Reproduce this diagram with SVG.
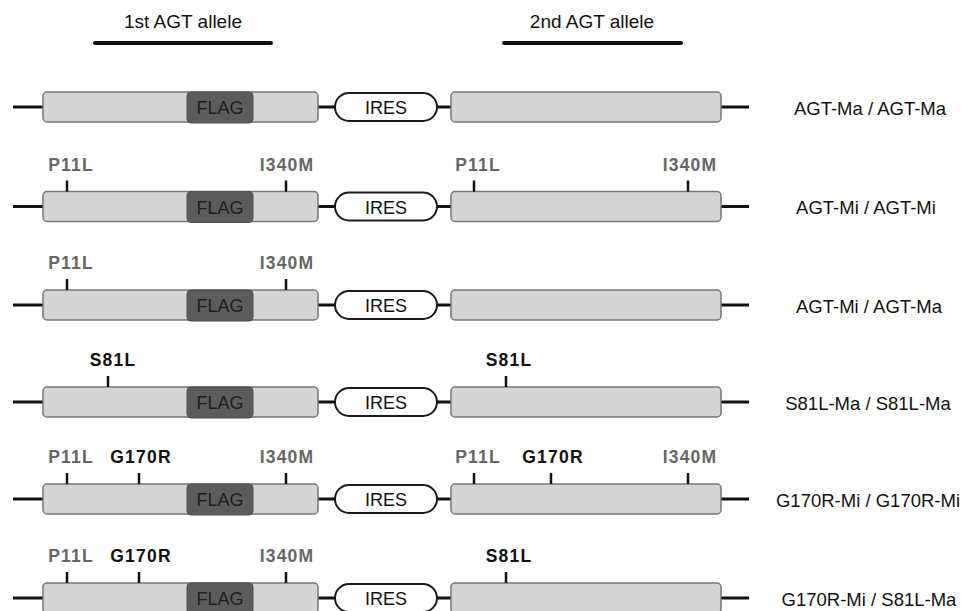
<svg xmlns="http://www.w3.org/2000/svg" width="974" height="611" viewBox="0 0 974 611">
<style>
  text { font-family: "Liberation Sans", Arial, sans-serif; }
  .hdr { font-size: 19px; fill: #111; text-anchor: middle; }
  .bar { stroke: #111; stroke-width: 4; stroke-linecap: round; }
  .box { fill: #d4d4d4; stroke: #777; stroke-width: 1.5; }
  .flag { fill: #5c5c5c; stroke: #4d4d4d; stroke-width: 1; }
  .flagt { font-size: 18px; fill: #1e1e1e; text-anchor: middle; }
  .ires { fill: #fff; stroke: #1a1a1a; stroke-width: 2; }
  .irest { font-size: 18px; fill: #111; text-anchor: middle; }
  .wire { stroke: #111; stroke-width: 3; }
  .tick { stroke: #111; stroke-width: 2.5; }
  .mi { font-size: 17.5px; font-weight: bold; fill: #666; text-anchor: middle; letter-spacing: 1.2px; }
  .ma { font-size: 17.5px; font-weight: bold; fill: #111; text-anchor: middle; letter-spacing: 1.2px; }
  .lbl { font-size: 18.5px; fill: #111; text-anchor: middle; }
</style>
<defs>
  <g id="cassette">
    <rect class="box" x="43" y="0" width="275" height="30" rx="4"/>
    <rect class="flag" x="187" y="0" width="66" height="31" rx="4"/>
    <text class="flagt" x="220" y="22">FLAG</text>
    <rect class="ires" x="335" y="1" width="102" height="28" rx="14"/>
    <text class="irest" x="386" y="22">IRES</text>
    <rect class="box" x="451" y="0" width="270" height="30" rx="4"/>
  </g>
  <g id="wires">
    <line x1="13" y1="15" x2="43" y2="15"/>
    <line x1="318" y1="15" x2="335" y2="15"/>
    <line x1="437" y1="15" x2="451" y2="15"/>
    <line x1="721" y1="15" x2="749" y2="15"/>
  </g>
</defs>

<g id="headers">
  <text class="hdr" x="183" y="28">1st AGT allele</text>
  <line class="bar" x1="95" y1="43" x2="271" y2="43"/>
  <text class="hdr" x="592" y="28">2nd AGT allele</text>
  <line class="bar" x1="504" y1="43" x2="681" y2="43"/>
</g>

<g id="connectors" class="wire">
  <use href="#wires" transform="translate(0,92)"/>
  <use href="#wires" transform="translate(0,191.5)"/>
  <use href="#wires" transform="translate(0,290)"/>
  <use href="#wires" transform="translate(0,387)"/>
  <use href="#wires" transform="translate(0,484)"/>
  <use href="#wires" transform="translate(0,583)"/>
</g>

<g id="row1" transform="translate(0,92)">
  <use href="#cassette"/>
  <text class="lbl" x="870" y="22.5">AGT-Ma / AGT-Ma</text>
</g>

<g id="row2" transform="translate(0,191.5)">
  <use href="#cassette"/>
  <line class="tick" x1="67" y1="-11" x2="67" y2="0"/>
  <text class="mi" x="71" y="-21">P11L</text>
  <line class="tick" x1="286" y1="-11" x2="286" y2="0"/>
  <text class="mi" x="287" y="-21">I340M</text>
  <line class="tick" x1="474" y1="-11" x2="474" y2="0"/>
  <text class="mi" x="478" y="-21">P11L</text>
  <line class="tick" x1="688" y1="-11" x2="688" y2="0"/>
  <text class="mi" x="690" y="-21">I340M</text>
  <text class="lbl" x="866" y="22.5">AGT-Mi / AGT-Mi</text>
</g>

<g id="row3" transform="translate(0,290)">
  <use href="#cassette"/>
  <line class="tick" x1="67" y1="-11" x2="67" y2="0"/>
  <text class="mi" x="71" y="-21">P11L</text>
  <line class="tick" x1="286" y1="-11" x2="286" y2="0"/>
  <text class="mi" x="287" y="-21">I340M</text>
  <text class="lbl" x="869" y="22.5">AGT-Mi / AGT-Ma</text>
</g>

<g id="row4" transform="translate(0,387)">
  <use href="#cassette"/>
  <line class="tick" x1="108" y1="-11" x2="108" y2="0"/>
  <text class="ma" x="113" y="-21">S81L</text>
  <line class="tick" x1="506" y1="-11" x2="506" y2="0"/>
  <text class="ma" x="509" y="-21">S81L</text>
  <text class="lbl" x="868" y="22.5">S81L-Ma / S81L-Ma</text>
</g>

<g id="row5" transform="translate(0,484)">
  <use href="#cassette"/>
  <line class="tick" x1="67" y1="-11" x2="67" y2="0"/>
  <text class="mi" x="71" y="-21">P11L</text>
  <line class="tick" x1="139" y1="-11" x2="139" y2="0"/>
  <text class="ma" x="141" y="-21">G170R</text>
  <line class="tick" x1="286" y1="-11" x2="286" y2="0"/>
  <text class="mi" x="287" y="-21">I340M</text>
  <line class="tick" x1="474" y1="-11" x2="474" y2="0"/>
  <text class="mi" x="478" y="-21">P11L</text>
  <line class="tick" x1="551" y1="-11" x2="551" y2="0"/>
  <text class="ma" x="553" y="-21">G170R</text>
  <line class="tick" x1="688" y1="-11" x2="688" y2="0"/>
  <text class="mi" x="690" y="-21">I340M</text>
  <text class="lbl" x="868" y="22.5">G170R-Mi / G170R-Mi</text>
</g>

<g id="row6" transform="translate(0,583)">
  <use href="#cassette"/>
  <line class="tick" x1="67" y1="-11" x2="67" y2="0"/>
  <text class="mi" x="71" y="-21">P11L</text>
  <line class="tick" x1="139" y1="-11" x2="139" y2="0"/>
  <text class="ma" x="141" y="-21">G170R</text>
  <line class="tick" x1="286" y1="-11" x2="286" y2="0"/>
  <text class="mi" x="287" y="-21">I340M</text>
  <line class="tick" x1="506" y1="-11" x2="506" y2="0"/>
  <text class="ma" x="509" y="-21">S81L</text>
  <text class="lbl" x="869" y="22.5">G170R-Mi / S81L-Ma</text>
</g>
</svg>
